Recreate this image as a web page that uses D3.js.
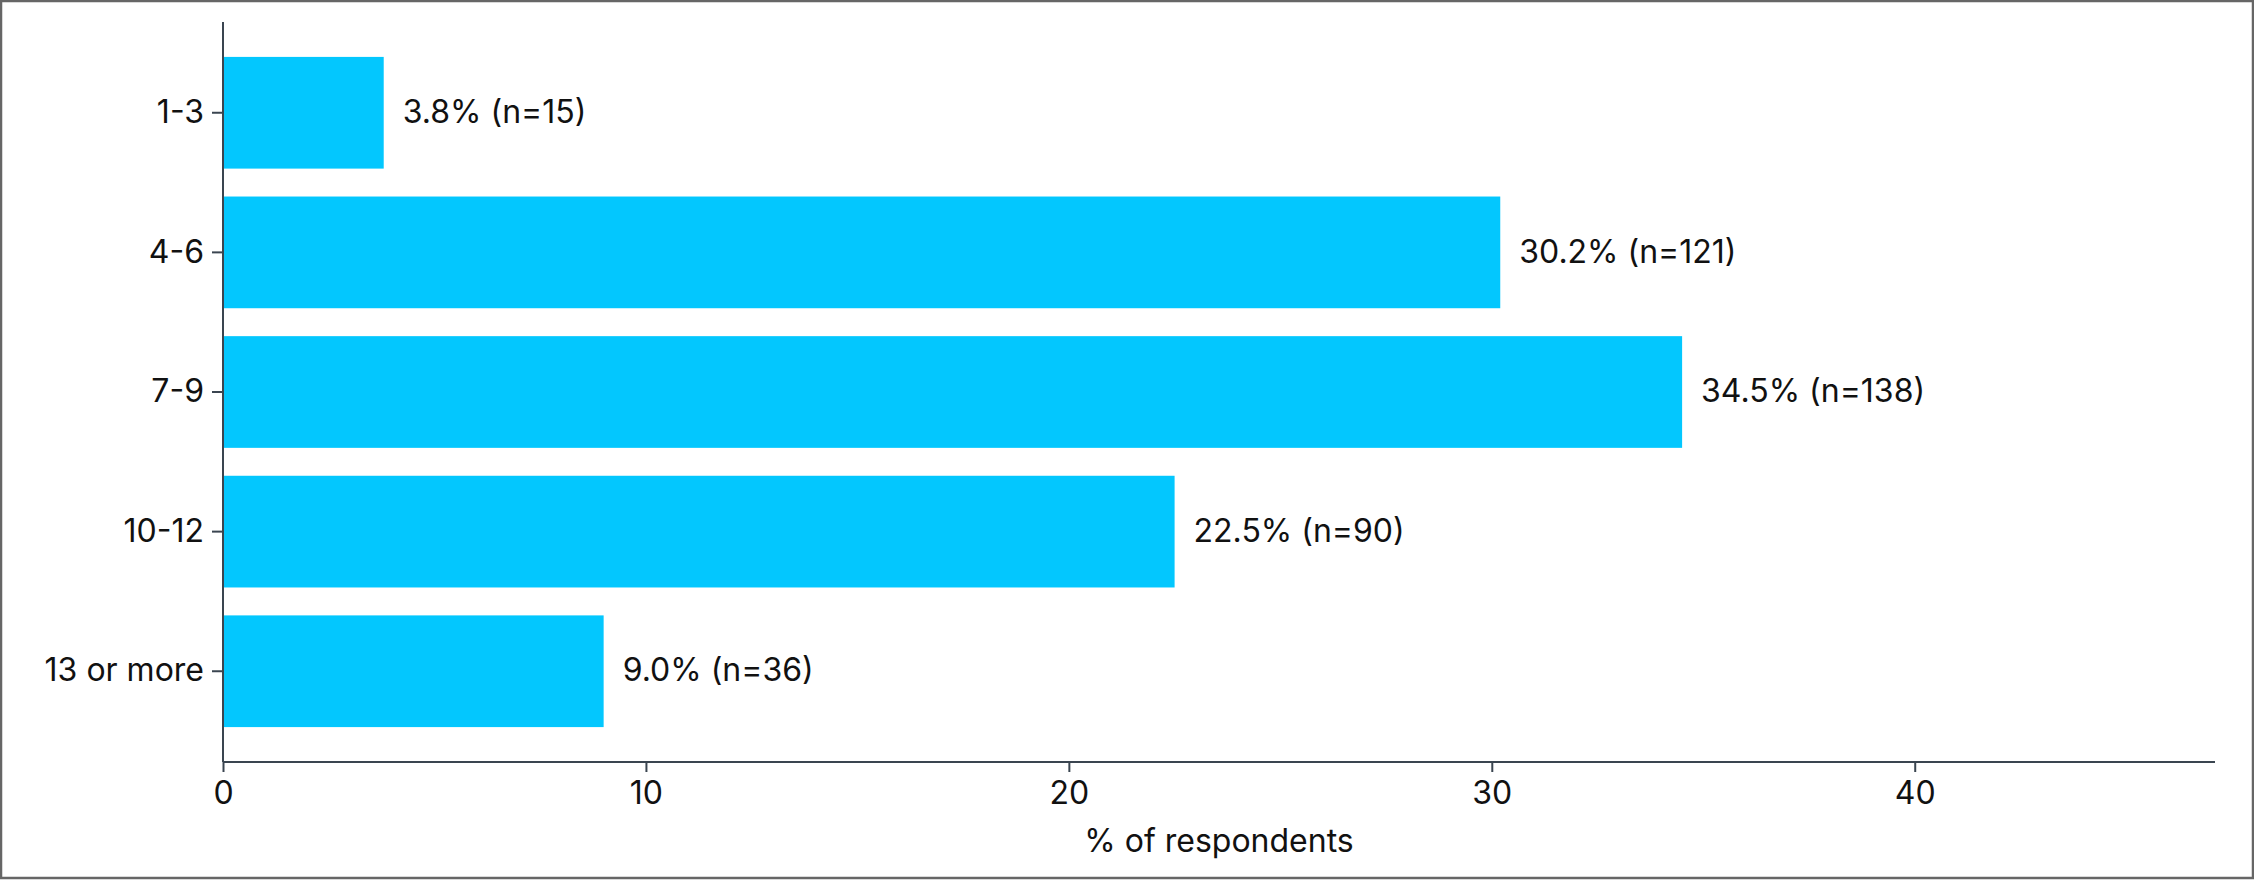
<!DOCTYPE html>
<html>
<head>
<meta charset="utf-8">
<script src="https://cdn.jsdelivr.net/npm/d3@7/dist/d3.min.js"></script>
<style>
  html, body { margin: 0; padding: 0; background: #fff; }
  svg { display: block; }
  text { font-family: Inter, "Noto Sans", sans-serif; fill: #111; }
</style>
</head>
<body>
<svg id="chart" width="2254" height="880"></svg>
<script>
const categories = ["1-3", "4-6", "7-9", "10-12", "13 or more"];
const percentValues = [3.8, 30.2, 34.5, 22.5, 9.0];
const countValues = [15, 121, 138, 90, 36];
const xTickValues = [0, 10, 20, 30, 40];
const xAxisTitle = "% of respondents";
const xMax = 47.1;

const W = 2254, H = 880;
const margin = { left: 223, right: 39, top: 22, bottom: 118 };
const FS = 32;
const svg = d3.select("#chart");

svg.append("rect")
  .attr("x", 1).attr("y", 1)
  .attr("width", W - 2).attr("height", H - 3)
  .attr("fill", "#fff").attr("stroke", "#666").attr("stroke-width", 2.5);

const x = d3.scaleLinear().domain([0, xMax]).range([margin.left, W - margin.right]);
const y = d3.scaleBand().domain(categories)
  .range([margin.top, H - margin.bottom])
  .paddingInner(0.2).paddingOuter(0.25);

const data = categories.map((c, i) => ({ c, v: percentValues[i], n: countValues[i] }));

svg.append("g").selectAll("rect").data(data).join("rect")
  .attr("x", x(0))
  .attr("y", d => y(d.c))
  .attr("width", d => x(d.v) - x(0))
  .attr("height", y.bandwidth())
  .attr("fill", "#03C7FE");

svg.append("g").selectAll("text").data(data).join("text")
  .attr("x", d => x(d.v) + 19)
  .attr("y", d => y(d.c) + y.bandwidth() / 2)
  .attr("dy", "0.32em")
  .attr("font-size", FS)
  .text(d => `${d.v.toFixed(1)}% (n=${d.n})`);

const axisColor = "#3a4550";

const gx = svg.append("g")
  .attr("transform", `translate(0,${H - margin.bottom})`)
  .call(d3.axisBottom(x).tickValues(xTickValues).tickSize(10).tickPadding(9).tickFormat(d3.format("d")));
const gy = svg.append("g")
  .attr("transform", `translate(${margin.left},0)`)
  .call(d3.axisLeft(y).tickSize(11).tickPadding(8));

[gx, gy].forEach(g => {
  g.select(".domain").attr("stroke", axisColor).attr("stroke-width", 2).attr("d",
    g === gx ? `M${x(0)},0H${x(xMax)}` : `M0,${margin.top}V${H - margin.bottom}`);
  g.selectAll(".tick line").attr("stroke", axisColor).attr("stroke-width", 2);
  g.selectAll(".tick text").attr("font-size", FS).attr("fill", "#111")
    .attr("font-family", "Inter, 'Noto Sans', sans-serif");
});

svg.append("text")
  .attr("x", (x(0) + x(xMax)) / 2)
  .attr("y", 852)
  .attr("text-anchor", "middle")
  .attr("font-size", FS)
  .text(xAxisTitle);
</script>
</body>
</html>
